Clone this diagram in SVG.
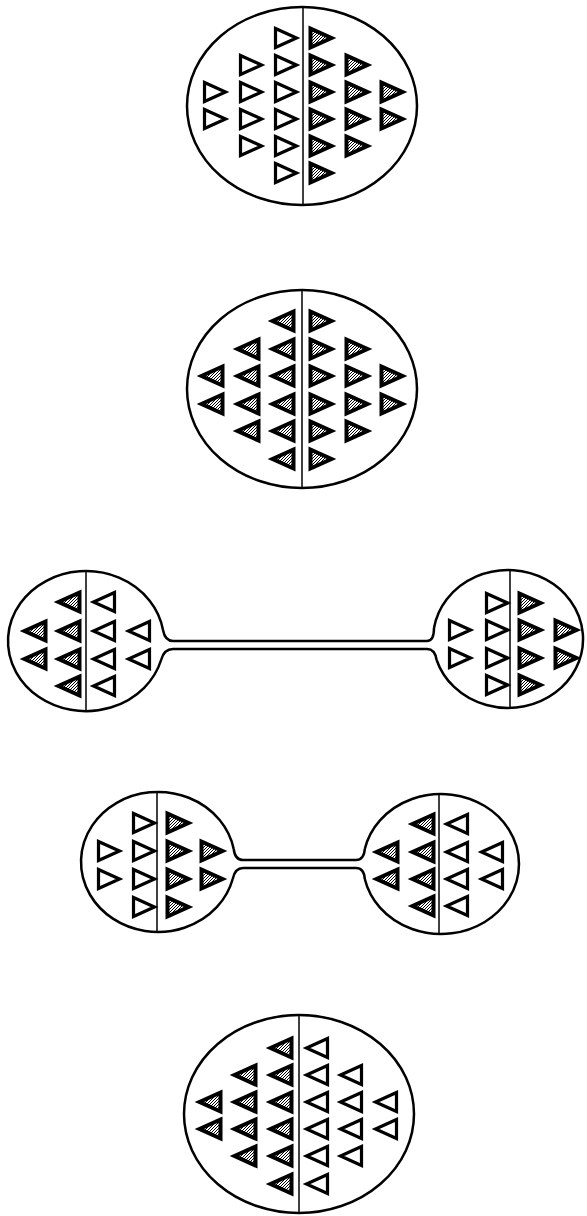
<svg xmlns="http://www.w3.org/2000/svg" xmlns:xlink="http://www.w3.org/1999/xlink" width="587" height="1216" viewBox="0 0 587 1216">
<style>
.out{fill:none;stroke:#000;stroke-width:2.5}
.mid{stroke:#000;stroke-width:1.5}
.tube{fill:none;stroke:#000;stroke-width:2.5}
</style>
<defs>
<pattern id="dots" width="3" height="3" patternUnits="userSpaceOnUse">
<rect width="3" height="3" fill="#fff"/>
<rect width="1" height="1" fill="#000"/>
<rect x="1" y="2" width="1" height="1" fill="#000"/>
<rect x="2" y="1" width="1" height="1" fill="#000"/>
</pattern>
<path id="ro" d="M-9.5,-9.5 L11.5,0 L-9.5,9.5 Z" fill="#fff" stroke="#000" stroke-width="3.2" stroke-linejoin="miter"/>
<path id="rs" d="M-9.5,-9.5 L11.5,0 L-9.5,9.5 Z" fill="url(#dots)" stroke="#000" stroke-width="4" stroke-linejoin="miter"/>
<path id="lo" d="M9.5,-9.5 L-11.5,0 L9.5,9.5 Z" fill="#fff" stroke="#000" stroke-width="3.2" stroke-linejoin="miter"/>
<path id="ls" d="M9.5,-9.5 L-11.5,0 L9.5,9.5 Z" fill="url(#dots)" stroke="#000" stroke-width="4" stroke-linejoin="miter"/>
</defs>
<rect width="587" height="1216" fill="#fff"/>

<g id="node1">
<ellipse class="out" cx="302" cy="106" rx="115" ry="99"/>
<line class="mid" x1="303" y1="7" x2="303" y2="205"/>
<use href="#ro" x="285" y="38"/><use href="#ro" x="285" y="65"/><use href="#ro" x="285" y="92"/><use href="#ro" x="285" y="119"/><use href="#ro" x="285" y="146"/><use href="#ro" x="285" y="173"/>
<use href="#ro" x="250" y="65"/><use href="#ro" x="250" y="92"/><use href="#ro" x="250" y="119"/><use href="#ro" x="250" y="146"/>
<use href="#ro" x="214" y="92"/><use href="#ro" x="214" y="119"/>
<use href="#rs" x="320" y="38"/><use href="#rs" x="320" y="65"/><use href="#rs" x="320" y="92"/><use href="#rs" x="320" y="119"/><use href="#rs" x="320" y="146"/><use href="#rs" x="320" y="173"/>
<use href="#rs" x="356" y="65"/><use href="#rs" x="356" y="92"/><use href="#rs" x="356" y="119"/><use href="#rs" x="356" y="146"/>
<use href="#rs" x="391" y="92"/><use href="#rs" x="391" y="119"/>
</g>

<g id="node2">
<ellipse class="out" cx="302" cy="389" rx="115" ry="99"/>
<line class="mid" x1="302" y1="290" x2="302" y2="488"/>
<use href="#ls" x="284" y="321"/><use href="#ls" x="284" y="349"/><use href="#ls" x="284" y="376"/><use href="#ls" x="284" y="404"/><use href="#ls" x="284" y="431"/><use href="#ls" x="284" y="459"/>
<use href="#ls" x="249" y="349"/><use href="#ls" x="249" y="376"/><use href="#ls" x="249" y="404"/><use href="#ls" x="249" y="431"/>
<use href="#ls" x="213" y="376"/><use href="#ls" x="213" y="404"/>
<use href="#rs" x="320" y="321"/><use href="#rs" x="320" y="349"/><use href="#rs" x="320" y="376"/><use href="#rs" x="320" y="404"/><use href="#rs" x="320" y="431"/><use href="#rs" x="320" y="459"/>
<use href="#rs" x="356" y="349"/><use href="#rs" x="356" y="376"/><use href="#rs" x="356" y="404"/><use href="#rs" x="356" y="431"/>
<use href="#rs" x="391" y="376"/><use href="#rs" x="391" y="404"/>
</g>

<g id="node3">
<path class="out" d="M163,630 A78,70 0 1 0 161.1,660"/>
<line class="mid" x1="86" y1="571" x2="86" y2="711"/>
<use href="#ls" x="70" y="602"/><use href="#ls" x="70" y="631"/><use href="#ls" x="70" y="659"/><use href="#ls" x="70" y="686"/>
<use href="#ls" x="36" y="631"/><use href="#ls" x="36" y="659"/>
<use href="#lo" x="105" y="602"/><use href="#lo" x="105" y="631"/><use href="#lo" x="105" y="659"/><use href="#lo" x="105" y="686"/>
<use href="#lo" x="140" y="631"/><use href="#lo" x="140" y="659"/>
</g>

<g id="node4">
<path class="out" d="M434,628 A75,69 0 1 1 436.6,660"/>
<line class="mid" x1="510" y1="570" x2="510" y2="708"/>
<use href="#ro" x="496" y="603"/><use href="#ro" x="496" y="630"/><use href="#ro" x="496" y="658"/><use href="#ro" x="496" y="685"/>
<use href="#ro" x="459" y="630"/><use href="#ro" x="459" y="658"/>
<use href="#rs" x="529" y="603"/><use href="#rs" x="529" y="630"/><use href="#rs" x="529" y="658"/><use href="#rs" x="529" y="685"/>
<use href="#rs" x="565" y="630"/><use href="#rs" x="565" y="658"/>
</g>

<g id="node5">
<path class="out" d="M233.7,849 A77,70 0 1 0 232.7,879"/>
<line class="mid" x1="157" y1="792" x2="157" y2="932"/>
<use href="#ro" x="143" y="823"/><use href="#ro" x="143" y="851"/><use href="#ro" x="143" y="879"/><use href="#ro" x="143" y="907"/>
<use href="#ro" x="108" y="851"/><use href="#ro" x="108" y="879"/>
<use href="#rs" x="177" y="823"/><use href="#rs" x="177" y="851"/><use href="#rs" x="177" y="879"/><use href="#rs" x="177" y="907"/>
<use href="#rs" x="211" y="851"/><use href="#rs" x="211" y="879"/>
</g>

<g id="node6">
<path class="out" d="M364.8,849 A78,70 0 1 1 364.8,879"/>
<line class="mid" x1="439" y1="794" x2="439" y2="934"/>
<use href="#ls" x="424" y="824"/><use href="#ls" x="424" y="852"/><use href="#ls" x="424" y="879"/><use href="#ls" x="424" y="906"/>
<use href="#ls" x="388" y="852"/><use href="#ls" x="388" y="879"/>
<use href="#lo" x="458" y="824"/><use href="#lo" x="458" y="852"/><use href="#lo" x="458" y="879"/><use href="#lo" x="458" y="906"/>
<use href="#lo" x="493" y="852"/><use href="#lo" x="493" y="879"/>
</g>

<g id="node7">
<ellipse class="out" cx="299" cy="1114" rx="115" ry="99"/>
<line class="mid" x1="299" y1="1015" x2="299" y2="1213"/>
<use href="#ls" x="282" y="1048"/><use href="#ls" x="282" y="1075"/><use href="#ls" x="282" y="1102"/><use href="#ls" x="282" y="1129"/><use href="#ls" x="282" y="1156"/><use href="#ls" x="282" y="1184"/>
<use href="#ls" x="246" y="1075"/><use href="#ls" x="246" y="1102"/><use href="#ls" x="246" y="1129"/><use href="#ls" x="246" y="1156"/>
<use href="#ls" x="211" y="1102"/><use href="#ls" x="211" y="1129"/>
<use href="#lo" x="318" y="1048"/><use href="#lo" x="318" y="1075"/><use href="#lo" x="318" y="1102"/><use href="#lo" x="318" y="1129"/><use href="#lo" x="318" y="1156"/><use href="#lo" x="318" y="1184"/>
<use href="#lo" x="352" y="1075"/><use href="#lo" x="352" y="1102"/><use href="#lo" x="352" y="1129"/><use href="#lo" x="352" y="1156"/>
<use href="#lo" x="387" y="1102"/><use href="#lo" x="387" y="1129"/>
</g>

<g id="connectors">
<path class="tube" d="M163,630 Q165,641 173,641 H427 Q434,641 434,628"/>
<path class="tube" d="M161.1,660 Q164,649 173,649 H427 Q435,649 436.6,660"/>
<path class="tube" d="M233.7,849 Q235,860 243,860 H356 Q364,860 364.8,849"/>
<path class="tube" d="M232.7,879 Q235,868 243,868 H356 Q364,868 364.8,879"/>
</g>
</svg>
